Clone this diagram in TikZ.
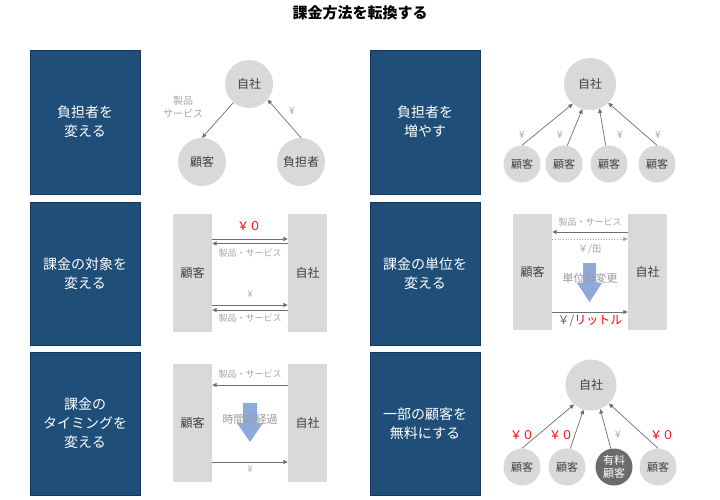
\documentclass[tikz,border=0pt]{standalone}
\usepackage{fontspec}
\setmainfont{Noto Sans CJK JP}
\usetikzlibrary{arrows.meta}
\definecolor{navy}{HTML}{1F4E79}
\definecolor{navyb}{HTML}{17365D}
\definecolor{lgrey}{HTML}{D9D9D9}
\definecolor{agrey}{HTML}{6E6E6E}
\definecolor{tgrey}{HTML}{A6A6A6}
\definecolor{mgrey}{HTML}{999999}
\definecolor{dgrey}{HTML}{6B6B6B}
\definecolor{ink}{HTML}{404040}
\definecolor{barrow}{HTML}{8EAADB}
\begin{document}
\begin{tikzpicture}[x=1pt,y=-1pt,
 navybox/.style={draw=navyb, line width=0.6pt, fill=navy, text=white, minimum width=110pt, minimum height=143pt, font=\fontsize{14}{19}\selectfont, align=center, inner sep=0pt},
 circ/.style={circle, fill=lgrey, inner sep=0pt, text=ink},
 bigc/.style={circ, minimum size=48pt, font=\fontsize{12}{14}\selectfont},
 smallc/.style={circ, minimum size=37pt, font=\fontsize{11}{13}\selectfont},
 bar/.style={fill=lgrey, minimum width=39pt, inner sep=0pt, font=\fontsize{12}{14}\selectfont, text=ink},
 arr/.style={draw=agrey, line width=0.7pt, -{Triangle[length=4.5pt,width=4pt]}},
 lbl/.style={text=tgrey, font=\fontsize{9}{13}\selectfont, inner sep=0pt, align=center},
 yen/.style={text=tgrey, font=\fontsize{10}{12}\selectfont, inner sep=0pt},
 redlbl/.style={text=red, font=\fontsize{12}{14}\selectfont, inner sep=0pt},
]
\fill[white] (0,0) rectangle (720,499);
\path[use as bounding box] (0,0) rectangle (720,499);

% title
\node[font=\fontsize{15}{18}\selectfont\bfseries, text=black] (title) at (360,13) {課金方法を転換する};

% navy boxes
\node[navybox, minimum height=144pt] (n1) at (85,122) {負担者を\\変える};
\node[navybox] (n2) at (85,273.5) {課金の対象を\\変える};
\node[navybox] (n3) at (85,423.5) {課金の\\タイミングを\\変える};
\node[navybox, minimum height=144pt] (n4) at (425,122) {負担者を\\増やす};
\node[navybox] (n5) at (425,273.5) {課金の単位を\\変える};
\node[navybox] (n6) at (425,423.5) {一部の顧客を\\無料にする};

% row 1 left
\node[bigc] (a1) at (249,84) {自社};
\node[bigc] (a2) at (202,162) {顧客};
\node[bigc] (a3) at (301,162) {負担者};
\draw[arr] (a1.230) -- (a2.north);
\draw[arr] (a3.north) -- (a1.320);
\node[lbl, font=\fontsize{10}{13}\selectfont] (a4) at (183,107) {製品\\サービス};
\node[yen] (a5) at (292,111) {¥};

% row 1 right
\node[bigc, minimum size=52pt] (b0) at (590,84) {自社};
\node[smallc] (b1) at (522,164) {顧客};
\node[smallc] (b2) at (564,164) {顧客};
\node[smallc] (b3) at (609,164) {顧客};
\node[smallc] (b4) at (657,164) {顧客};
\draw[arr] (b1.north) -- (b0.229);
\draw[arr] (b2.80) -- (b0.253);
\draw[arr] (b3.100) -- (b0.291);
\draw[arr] (b4.north) -- (b0.314);
\node[yen] (b5) at (522,135) {¥};
\node[yen] (b6) at (560,135) {¥};
\node[yen] (b7) at (620,135) {¥};
\node[yen] (b8) at (658,135) {¥};

% row 2 left
\node[bar, minimum height=118pt] (c1) at (192.5,273) {顧客};
\node[bar, minimum height=118pt] (c2) at (307.5,273) {自社};
\draw[arr] (c1.east |- 0,239) -- (c2.west |- 0,239);
\draw[arr] (c2.west |- 0,243.5) -- (c1.east |- 0,243.5);
\draw[arr] (c1.east |- 0,305) -- (c2.west |- 0,305);
\draw[arr] (c2.west |- 0,310) -- (c1.east |- 0,310);
\node[redlbl] (c3) at (249,226) {￥０};
\node[lbl] (c4) at (250,253) {製品・サービス};
\node[yen, font=\fontsize{9}{11}\selectfont] (c5) at (250,294) {¥};
\node[lbl] (c6) at (250,318) {製品・サービス};

% row 2 right
\node[bar, minimum height=116pt] (d1) at (532.5,272) {顧客};
\node[bar, minimum height=116pt] (d2) at (647.5,272) {自社};
\draw[arr] (d2.west |- 0,232) -- (d1.east |- 0,232);
\draw[arr, dotted, draw=tgrey] (d1.east |- 0,239) -- (d2.west |- 0,239);
\draw[arr] (d1.east |- 0,312) -- (d2.west |- 0,312);
\fill[barrow] (583,263) -- (596,263) -- (596,283) -- (602,283) -- (589.5,302) -- (577,283) -- (583,283) -- cycle;
\node[lbl] (d3) at (590,222) {製品・サービス};
\node[lbl, font=\fontsize{10}{12}\selectfont] (d4) at (590,249) {￥/缶};
\node[lbl, text=mgrey, font=\fontsize{11}{13}\selectfont] (d5) at (590,278) {単位の変更};
\node[inner sep=0pt, font=\fontsize{12}{14}\selectfont] (d6) at (590,321) {\textcolor{dgrey}{￥/}\textcolor{red}{リットル}};

% row 3 left
\node[bar, minimum height=118pt] (e1) at (192.5,423) {顧客};
\node[bar, minimum height=118pt] (e2) at (307.5,423) {自社};
\draw[arr] (e2.west |- 0,385) -- (e1.east |- 0,385);
\draw[arr] (e1.east |- 0,462) -- (e2.west |- 0,462);
\fill[barrow] (243,403) -- (257,403) -- (257,423) -- (263,423) -- (250,442) -- (237,423) -- (243,423) -- cycle;
\node[lbl] (e3) at (250,374) {製品・サービス};
\node[lbl, text=mgrey, font=\fontsize{11}{13}\selectfont] (e4) at (250,419) {時間の経過};
\node[yen, font=\fontsize{9}{11}\selectfont] (e5) at (250,469) {¥};

% row 3 right
\node[bigc, minimum size=51pt] (f0) at (591,385) {自社};
\node[smallc] (f1) at (522,467) {顧客};
\node[smallc] (f2) at (567,467) {顧客};
\node[smallc, fill=dgrey, text=white, align=center, font=\fontsize{11}{13}\selectfont] (f3) at (614,467) {有料\\顧客};
\node[smallc] (f4) at (658,467) {顧客};
\draw[arr] (f1.north) -- (f0.229);
\draw[arr] (f2.80) -- (f0.253);
\draw[arr] (f3.100) -- (f0.291);
\draw[arr] (f4.north) -- (f0.314);
\node[redlbl] (f5) at (522,435) {￥０};
\node[redlbl] (f6) at (561,435) {￥０};
\node[yen] (f7) at (618,435) {¥};
\node[redlbl] (f8) at (662,435) {￥０};
\end{tikzpicture}
\end{document}
